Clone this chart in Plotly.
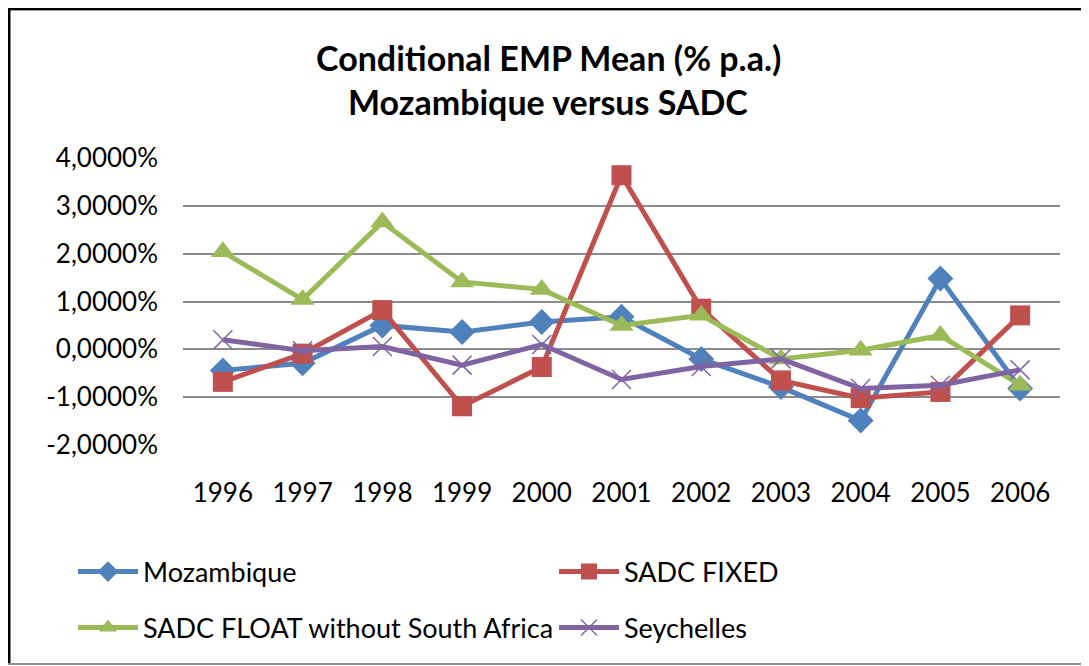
import plotly.graph_objects as go

years = ["1996", "1997", "1998", "1999", "2000", "2001", "2002", "2003", "2004", "2005", "2006"]
mozambique = [-0.44, -0.29, 0.50, 0.36, 0.57, 0.68, -0.20, -0.79, -1.49, 1.48, -0.82]
sadc_fixed = [-0.68, -0.09, 0.82, -1.19, -0.37, 3.64, 0.85, -0.65, -1.02, -0.89, 0.71]
sadc_float = [2.04, 1.04, 2.66, 1.41, 1.25, 0.50, 0.71, -0.20, -0.02, 0.29, -0.75]
seychelles = [0.20, -0.03, 0.06, -0.33, 0.10, -0.63, -0.36, -0.20, -0.82, -0.75, -0.43]
tick_vals = [-2, -1, 0, 1, 2, 3, 4]
tick_text = ["-2,0000%", "-1,0000%", "0,0000%", "1,0000%", "2,0000%", "3,0000%", "4,0000%"]

FONT = "Lato"
OFF = 8  # page body margin offset
W, H = 1089 - OFF, 666 - OFF
ML, MT = 183 - OFF, 158 - OFF
PW, PH = 877, 287
MR, MB = W - ML - PW, H - MT - PH

def px(x):
    return (x - OFF - ML) / PW

def py(y):
    return (MT + PH - (y - OFF)) / PH

fig = go.Figure()
fig.add_trace(go.Scatter(x=years, y=mozambique, name="Mozambique", mode="lines+markers",
                         line=dict(color="#4F81BD", width=5),
                         marker=dict(symbol="diamond", size=20, color="#4F81BD"), legend="legend"))
fig.add_trace(go.Scatter(x=years, y=sadc_fixed, name="SADC FIXED", mode="lines+markers",
                         line=dict(color="#C0504D", width=5),
                         marker=dict(symbol="square", size=20, color="#C0504D"), legend="legend"))
fig.add_trace(go.Scatter(x=years, y=sadc_float, name="SADC FLOAT without South Africa", mode="lines+markers",
                         line=dict(color="#9BBB59", width=5),
                         marker=dict(symbol="triangle-up", size=21, color="#9BBB59"), legend="legend2"))
fig.add_trace(go.Scatter(x=years, y=seychelles, name="Seychelles", mode="lines+markers",
                         line=dict(color="#8064A2", width=5),
                         marker=dict(symbol="x-thin-open", size=19, line=dict(color="#8064A2", width=1.5)),
                         legend="legend2"))

legend_common = dict(orientation="h", xanchor="left", yanchor="middle",
                     font=dict(family=FONT, size=27, color="#000000"),
                     itemwidth=60,
                     entrywidth=406, entrywidthmode="pixels", bgcolor="rgba(0,0,0,0)")

fig.update_layout(
    width=W, height=H,
    margin=dict(l=ML, r=MR, t=MT, b=MB),
    paper_bgcolor="white", plot_bgcolor="white",
    font=dict(family=FONT, color="#000000"),
    showlegend=True,
    legend=dict(x=px(73), y=py(572), **legend_common),
    legend2=dict(x=px(73), y=py(628), **legend_common),
    xaxis=dict(type="category", range=[-0.5, 10.5], showgrid=False, showline=False,
               ticks="", ticklabelstandoff=30,
               tickfont=dict(family=FONT, size=26, color="#000000"), fixedrange=True),
    yaxis=dict(range=[-2, 4], tickvals=tick_vals, ticktext=tick_text, showgrid=True,
               gridcolor="#8C8C8C", gridwidth=1.5, zeroline=False, showline=False, ticks="",
               ticklabelstandoff=24,
               tickfont=dict(family=FONT, size=26, color="#000000"), fixedrange=True),
    annotations=[
        dict(text="<b>Conditional EMP Mean (% p.a.)</b>", x=px(548), y=py(57), xref="paper", yref="paper",
             showarrow=False, xanchor="center", yanchor="middle", font=dict(family=FONT, size=34, color="#000000")),
        dict(text="<b>Mozambique versus SADC</b>", x=px(548), y=py(101), xref="paper", yref="paper",
             showarrow=False, xanchor="center", yanchor="middle", font=dict(family=FONT, size=34, color="#000000")),
    ],
    shapes=[
        dict(type="line", xref="paper", yref="paper", x0=px(5), x1=px(1089), y0=py(7), y1=py(7),
             line=dict(color="black", width=6)),
        dict(type="line", xref="paper", yref="paper", x0=px(10), x1=px(1089), y0=py(10.5), y1=py(10.5),
             line=dict(color="#9A9A9A", width=1)),
        dict(type="line", xref="paper", yref="paper", x0=px(7.5), x1=px(7.5), y0=py(4), y1=py(664),
             line=dict(color="black", width=6)),
        dict(type="line", xref="paper", yref="paper", x0=px(5), x1=px(1089), y0=py(664), y1=py(664),
             line=dict(color="#8C8C8C", width=2)),
    ],
)

fig.write_html("out.html")
